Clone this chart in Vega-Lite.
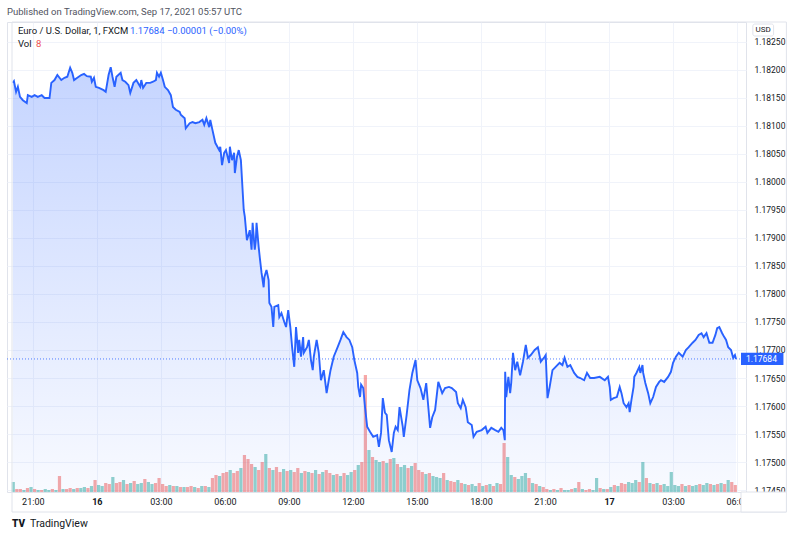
{
"$schema":"https://vega.github.io/schema/vega-lite/v6.json",
"width":739,"height":470,
"autosize":{"type":"none"},
"padding":{"left":7,"top":22,"right":54,"bottom":46},
"background":"white",
"title":{"text":"Published on TradingView.com, Sep 17, 2021 05:57 UTC","anchor":"start","frame":"group","fontSize":9.5,"fontWeight":"normal","color":"#50535e","offset":5,"font":"Roboto"},
"config":{"font":"Roboto","view":{"stroke":"#e0e3eb","strokeWidth":1},"axis":{"labelOverlap":false,"labelFlush":false}},
"datasets":{
"price":[
{"t":"2021-09-15T20:04Z","p":1.18177},{"t":"2021-09-15T20:07Z","p":1.18180},{"t":"2021-09-15T20:13Z","p":1.18161},{"t":"2021-09-15T20:18Z","p":1.18170},{"t":"2021-09-15T20:24Z","p":1.18152},{"t":"2021-09-15T20:32Z","p":1.18146},{"t":"2021-09-15T20:43Z","p":1.18141},{"t":"2021-09-15T20:46Z","p":1.18155},{"t":"2021-09-15T20:57Z","p":1.18152},{"t":"2021-09-15T21:05Z","p":1.18155},{"t":"2021-09-15T21:14Z","p":1.18152},{"t":"2021-09-15T21:25Z","p":1.18155},{"t":"2021-09-15T21:33Z","p":1.18150},{"t":"2021-09-15T21:47Z","p":1.18150},{"t":"2021-09-15T21:52Z","p":1.18177},{"t":"2021-09-15T22:01Z","p":1.18182},{"t":"2021-09-15T22:09Z","p":1.18191},{"t":"2021-09-15T22:20Z","p":1.18182},{"t":"2021-09-15T22:29Z","p":1.18186},{"t":"2021-09-15T22:37Z","p":1.18188},{"t":"2021-09-15T22:45Z","p":1.18204},{"t":"2021-09-15T22:51Z","p":1.18195},{"t":"2021-09-15T22:56Z","p":1.18182},{"t":"2021-09-15T23:05Z","p":1.18186},{"t":"2021-09-15T23:16Z","p":1.18191},{"t":"2021-09-15T23:24Z","p":1.18193},{"t":"2021-09-15T23:32Z","p":1.18189},{"t":"2021-09-15T23:43Z","p":1.18188},{"t":"2021-09-15T23:46Z","p":1.18179},{"t":"2021-09-15T23:52Z","p":1.18186},{"t":"2021-09-15T23:57Z","p":1.18170},
{"t":"2021-09-16T00:06Z","p":1.18168},{"t":"2021-09-16T00:19Z","p":1.18164},{"t":"2021-09-16T00:25Z","p":1.18161},{"t":"2021-09-16T00:33Z","p":1.18191},{"t":"2021-09-16T00:39Z","p":1.18205},{"t":"2021-09-16T00:44Z","p":1.18188},{"t":"2021-09-16T00:50Z","p":1.18170},{"t":"2021-09-16T00:55Z","p":1.18188},{"t":"2021-09-16T01:07Z","p":1.18195},{"t":"2021-09-16T01:12Z","p":1.18182},{"t":"2021-09-16T01:20Z","p":1.18179},{"t":"2021-09-16T01:29Z","p":1.18173},{"t":"2021-09-16T01:34Z","p":1.18159},{"t":"2021-09-16T01:43Z","p":1.18177},{"t":"2021-09-16T01:51Z","p":1.18182},{"t":"2021-09-16T02:02Z","p":1.18170},{"t":"2021-09-16T02:05Z","p":1.18182},{"t":"2021-09-16T02:10Z","p":1.18168},{"t":"2021-09-16T02:19Z","p":1.18177},{"t":"2021-09-16T02:30Z","p":1.18177},{"t":"2021-09-16T02:38Z","p":1.18179},{"t":"2021-09-16T02:46Z","p":1.18182},{"t":"2021-09-16T02:49Z","p":1.18195},{"t":"2021-09-16T02:55Z","p":1.18188},{"t":"2021-09-16T03:00Z","p":1.18195},{"t":"2021-09-16T03:06Z","p":1.18182},{"t":"2021-09-16T03:11Z","p":1.18170},{"t":"2021-09-16T03:20Z","p":1.18164},{"t":"2021-09-16T03:28Z","p":1.18155},{"t":"2021-09-16T03:34Z","p":1.18134},{"t":"2021-09-16T03:42Z","p":1.18129},{"t":"2021-09-16T03:53Z","p":1.18125},{"t":"2021-09-16T03:56Z","p":1.18120},{"t":"2021-09-16T04:07Z","p":1.18114},{"t":"2021-09-16T04:10Z","p":1.18096},{"t":"2021-09-16T04:21Z","p":1.18105},{"t":"2021-09-16T04:29Z","p":1.18107},{"t":"2021-09-16T04:37Z","p":1.18105},{"t":"2021-09-16T04:48Z","p":1.18107},{"t":"2021-09-16T04:57Z","p":1.18111},{"t":"2021-09-16T05:02Z","p":1.18102},{"t":"2021-09-16T05:08Z","p":1.18114},{"t":"2021-09-16T05:16Z","p":1.18098},{"t":"2021-09-16T05:19Z","p":1.18111},{"t":"2021-09-16T05:25Z","p":1.18093},{"t":"2021-09-16T05:33Z","p":1.18070},{"t":"2021-09-16T05:44Z","p":1.18057},{"t":"2021-09-16T05:47Z","p":1.18063},{"t":"2021-09-16T05:52Z","p":1.18030},{"t":"2021-09-16T05:58Z","p":1.18052},{"t":"2021-09-16T06:03Z","p":1.18057},{"t":"2021-09-16T06:12Z","p":1.18034},{"t":"2021-09-16T06:14Z","p":1.18063},{"t":"2021-09-16T06:20Z","p":1.18039},{"t":"2021-09-16T06:26Z","p":1.18052},{"t":"2021-09-16T06:28Z","p":1.18016},{"t":"2021-09-16T06:34Z","p":1.18045},{"t":"2021-09-16T06:39Z","p":1.18057},{"t":"2021-09-16T06:45Z","p":1.18039},{"t":"2021-09-16T06:53Z","p":1.17950},{"t":"2021-09-16T06:56Z","p":1.17938},{"t":"2021-09-16T07:02Z","p":1.17896},{"t":"2021-09-16T07:10Z","p":1.17914},{"t":"2021-09-16T07:15Z","p":1.17879},{"t":"2021-09-16T07:18Z","p":1.17927},{"t":"2021-09-16T07:24Z","p":1.17879},{"t":"2021-09-16T07:27Z","p":1.17896},{"t":"2021-09-16T07:29Z","p":1.17927},{"t":"2021-09-16T07:35Z","p":1.17884},{"t":"2021-09-16T07:38Z","p":1.17866},{"t":"2021-09-16T07:43Z","p":1.17838},{"t":"2021-09-16T07:49Z","p":1.17812},{"t":"2021-09-16T07:51Z","p":1.17830},{"t":"2021-09-16T07:57Z","p":1.17843},{"t":"2021-09-16T08:03Z","p":1.17825},{"t":"2021-09-16T08:05Z","p":1.17784},{"t":"2021-09-16T08:11Z","p":1.17777},{"t":"2021-09-16T08:16Z","p":1.17741},{"t":"2021-09-16T08:19Z","p":1.17777},{"t":"2021-09-16T08:30Z","p":1.17780},{"t":"2021-09-16T08:33Z","p":1.17759},{"t":"2021-09-16T08:39Z","p":1.17766},{"t":"2021-09-16T08:47Z","p":1.17750},{"t":"2021-09-16T08:52Z","p":1.17741},{"t":"2021-09-16T08:58Z","p":1.17771},{"t":"2021-09-16T09:04Z","p":1.17741},{"t":"2021-09-16T09:09Z","p":1.17705},{"t":"2021-09-16T09:15Z","p":1.17670},{"t":"2021-09-16T09:20Z","p":1.17741},{"t":"2021-09-16T09:26Z","p":1.17695},{"t":"2021-09-16T09:29Z","p":1.17718},{"t":"2021-09-16T09:34Z","p":1.17688},{"t":"2021-09-16T09:40Z","p":1.17723},{"t":"2021-09-16T09:42Z","p":1.17695},{"t":"2021-09-16T09:51Z","p":1.17705},{"t":"2021-09-16T09:56Z","p":1.17718},{"t":"2021-09-16T10:02Z","p":1.17682},{"t":"2021-09-16T10:07Z","p":1.17664},{"t":"2021-09-16T10:10Z","p":1.17688},{"t":"2021-09-16T10:18Z","p":1.17718},{"t":"2021-09-16T10:24Z","p":1.17695},{"t":"2021-09-16T10:30Z","p":1.17646},{"t":"2021-09-16T10:38Z","p":1.17664},{"t":"2021-09-16T10:46Z","p":1.17623},{"t":"2021-09-16T10:52Z","p":1.17646},{"t":"2021-09-16T10:57Z","p":1.17664},{"t":"2021-09-16T11:06Z","p":1.17688},{"t":"2021-09-16T11:17Z","p":1.17705},{"t":"2021-09-16T11:25Z","p":1.17718},{"t":"2021-09-16T11:33Z","p":1.17732},{"t":"2021-09-16T11:42Z","p":1.17723},{"t":"2021-09-16T11:50Z","p":1.17718},{"t":"2021-09-16T11:58Z","p":1.17705},{"t":"2021-09-16T12:04Z","p":1.17682},{"t":"2021-09-16T12:12Z","p":1.17659},{"t":"2021-09-16T12:15Z","p":1.17634},{"t":"2021-09-16T12:20Z","p":1.17616},{"t":"2021-09-16T12:23Z","p":1.17638},{"t":"2021-09-16T12:29Z","p":1.17632},{"t":"2021-09-16T12:34Z","p":1.17598},{"t":"2021-09-16T12:40Z","p":1.17563},{"t":"2021-09-16T12:48Z","p":1.17554},{"t":"2021-09-16T12:57Z","p":1.17545},{"t":"2021-09-16T13:08Z","p":1.17548},{"t":"2021-09-16T13:13Z","p":1.17527},{"t":"2021-09-16T13:19Z","p":1.17552},{"t":"2021-09-16T13:24Z","p":1.17614},{"t":"2021-09-16T13:30Z","p":1.17588},{"t":"2021-09-16T13:35Z","p":1.17584},{"t":"2021-09-16T13:41Z","p":1.17539},{"t":"2021-09-16T13:49Z","p":1.17518},{"t":"2021-09-16T13:55Z","p":1.17552},{"t":"2021-09-16T14:00Z","p":1.17563},{"t":"2021-09-16T14:06Z","p":1.17557},{"t":"2021-09-16T14:11Z","p":1.17598},{"t":"2021-09-16T14:20Z","p":1.17563},{"t":"2021-09-16T14:23Z","p":1.17545},{"t":"2021-09-16T14:31Z","p":1.17584},{"t":"2021-09-16T14:39Z","p":1.17629},{"t":"2021-09-16T14:47Z","p":1.17659},{"t":"2021-09-16T14:56Z","p":1.17682},{"t":"2021-09-16T15:01Z","p":1.17646},{"t":"2021-09-16T15:10Z","p":1.17632},{"t":"2021-09-16T15:18Z","p":1.17611},{"t":"2021-09-16T15:26Z","p":1.17641},{"t":"2021-09-16T15:37Z","p":1.17561},{"t":"2021-09-16T15:43Z","p":1.17580},{"t":"2021-09-16T15:51Z","p":1.17593},{"t":"2021-09-16T16:00Z","p":1.17643},{"t":"2021-09-16T16:11Z","p":1.17623},{"t":"2021-09-16T16:19Z","p":1.17632},{"t":"2021-09-16T16:30Z","p":1.17634},{"t":"2021-09-16T16:38Z","p":1.17632},{"t":"2021-09-16T16:50Z","p":1.17625},{"t":"2021-09-16T16:55Z","p":1.17605},{"t":"2021-09-16T17:03Z","p":1.17596},{"t":"2021-09-16T17:09Z","p":1.17611},{"t":"2021-09-16T17:17Z","p":1.17598},{"t":"2021-09-16T17:23Z","p":1.17571},{"t":"2021-09-16T17:34Z","p":1.17566},{"t":"2021-09-16T17:39Z","p":1.17545},{"t":"2021-09-16T17:48Z","p":1.17554},{"t":"2021-09-16T18:02Z","p":1.17557},{"t":"2021-09-16T18:13Z","p":1.17563},{"t":"2021-09-16T18:18Z","p":1.17552},{"t":"2021-09-16T18:29Z","p":1.17561},{"t":"2021-09-16T18:40Z","p":1.17557},{"t":"2021-09-16T18:49Z","p":1.17554},{"t":"2021-09-16T18:57Z","p":1.17561},{"t":"2021-09-16T19:03Z","p":1.17557},{"t":"2021-09-16T19:07Z","p":1.17539},{"t":"2021-09-16T19:08Z","p":1.17661},{"t":"2021-09-16T19:11Z","p":1.17616},{"t":"2021-09-16T19:17Z","p":1.17652},{"t":"2021-09-16T19:22Z","p":1.17623},{"t":"2021-09-16T19:25Z","p":1.17641},{"t":"2021-09-16T19:30Z","p":1.17695},{"t":"2021-09-16T19:36Z","p":1.17664},{"t":"2021-09-16T19:42Z","p":1.17679},{"t":"2021-09-16T19:50Z","p":1.17655},{"t":"2021-09-16T19:58Z","p":1.17679},{"t":"2021-09-16T20:06Z","p":1.17709},{"t":"2021-09-16T20:12Z","p":1.17686},{"t":"2021-09-16T20:20Z","p":1.17691},{"t":"2021-09-16T20:31Z","p":1.17700},{"t":"2021-09-16T20:40Z","p":1.17705},{"t":"2021-09-16T20:48Z","p":1.17679},{"t":"2021-09-16T20:59Z","p":1.17688},{"t":"2021-09-16T21:02Z","p":1.17691},{"t":"2021-09-16T21:07Z","p":1.17614},{"t":"2021-09-16T21:13Z","p":1.17634},{"t":"2021-09-16T21:21Z","p":1.17664},{"t":"2021-09-16T21:30Z","p":1.17670},{"t":"2021-09-16T21:41Z","p":1.17677},{"t":"2021-09-16T21:49Z","p":1.17673},{"t":"2021-09-16T21:55Z","p":1.17686},{"t":"2021-09-16T22:03Z","p":1.17670},{"t":"2021-09-16T22:11Z","p":1.17673},{"t":"2021-09-16T22:22Z","p":1.17659},{"t":"2021-09-16T22:31Z","p":1.17652},{"t":"2021-09-16T22:39Z","p":1.17650},{"t":"2021-09-16T22:50Z","p":1.17646},{"t":"2021-09-16T22:58Z","p":1.17659},{"t":"2021-09-16T23:07Z","p":1.17650},{"t":"2021-09-16T23:18Z","p":1.17650},{"t":"2021-09-16T23:34Z","p":1.17652},{"t":"2021-09-16T23:48Z","p":1.17646},{"t":"2021-09-16T23:57Z","p":1.17652},
{"t":"2021-09-17T00:02Z","p":1.17634},{"t":"2021-09-17T00:05Z","p":1.17611},{"t":"2021-09-17T00:13Z","p":1.17614},{"t":"2021-09-17T00:22Z","p":1.17616},{"t":"2021-09-17T00:30Z","p":1.17634},{"t":"2021-09-17T00:35Z","p":1.17623},{"t":"2021-09-17T00:41Z","p":1.17605},{"t":"2021-09-17T00:49Z","p":1.17598},{"t":"2021-09-17T00:55Z","p":1.17605},{"t":"2021-09-17T00:58Z","p":1.17589},{"t":"2021-09-17T01:03Z","p":1.17611},{"t":"2021-09-17T01:09Z","p":1.17634},{"t":"2021-09-17T01:11Z","p":1.17652},{"t":"2021-09-17T01:17Z","p":1.17659},{"t":"2021-09-17T01:25Z","p":1.17670},{"t":"2021-09-17T01:28Z","p":1.17659},{"t":"2021-09-17T01:34Z","p":1.17673},{"t":"2021-09-17T01:36Z","p":1.17659},{"t":"2021-09-17T01:42Z","p":1.17641},{"t":"2021-09-17T01:50Z","p":1.17623},{"t":"2021-09-17T01:56Z","p":1.17605},{"t":"2021-09-17T02:04Z","p":1.17616},{"t":"2021-09-17T02:12Z","p":1.17634},{"t":"2021-09-17T02:21Z","p":1.17643},{"t":"2021-09-17T02:26Z","p":1.17646},{"t":"2021-09-17T02:35Z","p":1.17643},{"t":"2021-09-17T02:46Z","p":1.17652},{"t":"2021-09-17T02:54Z","p":1.17661},{"t":"2021-09-17T03:00Z","p":1.17677},{"t":"2021-09-17T03:08Z","p":1.17688},{"t":"2021-09-17T03:16Z","p":1.17695},{"t":"2021-09-17T03:27Z","p":1.17688},{"t":"2021-09-17T03:36Z","p":1.17700},{"t":"2021-09-17T03:44Z","p":1.17705},{"t":"2021-09-17T03:55Z","p":1.17713},{"t":"2021-09-17T04:03Z","p":1.17718},{"t":"2021-09-17T04:12Z","p":1.17727},{"t":"2021-09-17T04:20Z","p":1.17730},{"t":"2021-09-17T04:26Z","p":1.17723},{"t":"2021-09-17T04:34Z","p":1.17730},{"t":"2021-09-17T04:42Z","p":1.17713},{"t":"2021-09-17T04:51Z","p":1.17713},{"t":"2021-09-17T04:59Z","p":1.17727},{"t":"2021-09-17T05:04Z","p":1.17739},{"t":"2021-09-17T05:10Z","p":1.17741},{"t":"2021-09-17T05:18Z","p":1.17730},{"t":"2021-09-17T05:24Z","p":1.17723},{"t":"2021-09-17T05:29Z","p":1.17718},{"t":"2021-09-17T05:35Z","p":1.17705},{"t":"2021-09-17T05:43Z","p":1.17700},{"t":"2021-09-17T05:49Z","p":1.17686},{"t":"2021-09-17T05:54Z","p":1.17691},{"t":"2021-09-17T05:57Z","p":1.17684}
],
"vol":[
{"t":"2021-09-15T20:05Z","v":30,"dir":"up"},{"t":"2021-09-15T20:15Z","v":9,"dir":"down"},{"t":"2021-09-15T20:25Z","v":9,"dir":"down"},{"t":"2021-09-15T20:35Z","v":6,"dir":"up"},{"t":"2021-09-15T20:45Z","v":12,"dir":"down"},{"t":"2021-09-15T20:55Z","v":15,"dir":"up"},
{"t":"2021-09-15T21:05Z","v":9,"dir":"down"},{"t":"2021-09-15T21:15Z","v":6,"dir":"up"},{"t":"2021-09-15T21:25Z","v":6,"dir":"down"},{"t":"2021-09-15T21:35Z","v":9,"dir":"up"},{"t":"2021-09-15T21:45Z","v":6,"dir":"up"},{"t":"2021-09-15T21:55Z","v":9,"dir":"down"},
{"t":"2021-09-15T22:05Z","v":6,"dir":"up"},{"t":"2021-09-15T22:15Z","v":48,"dir":"down"},{"t":"2021-09-15T22:25Z","v":9,"dir":"up"},{"t":"2021-09-15T22:35Z","v":9,"dir":"down"},{"t":"2021-09-15T22:45Z","v":12,"dir":"down"},{"t":"2021-09-15T22:55Z","v":9,"dir":"up"},
{"t":"2021-09-15T23:05Z","v":12,"dir":"down"},{"t":"2021-09-15T23:15Z","v":12,"dir":"up"},{"t":"2021-09-15T23:25Z","v":15,"dir":"up"},{"t":"2021-09-15T23:35Z","v":12,"dir":"down"},{"t":"2021-09-15T23:45Z","v":18,"dir":"up"},{"t":"2021-09-15T23:55Z","v":36,"dir":"down"},
{"t":"2021-09-16T00:05Z","v":21,"dir":"up"},{"t":"2021-09-16T00:15Z","v":18,"dir":"up"},{"t":"2021-09-16T00:25Z","v":27,"dir":"down"},{"t":"2021-09-16T00:35Z","v":24,"dir":"down"},{"t":"2021-09-16T00:45Z","v":45,"dir":"up"},{"t":"2021-09-16T00:55Z","v":27,"dir":"down"},
{"t":"2021-09-16T01:05Z","v":30,"dir":"down"},{"t":"2021-09-16T01:15Z","v":36,"dir":"up"},{"t":"2021-09-16T01:25Z","v":24,"dir":"down"},{"t":"2021-09-16T01:35Z","v":27,"dir":"up"},{"t":"2021-09-16T01:45Z","v":33,"dir":"down"},{"t":"2021-09-16T01:55Z","v":24,"dir":"up"},
{"t":"2021-09-16T02:05Z","v":27,"dir":"up"},{"t":"2021-09-16T02:15Z","v":39,"dir":"down"},{"t":"2021-09-16T02:25Z","v":30,"dir":"up"},{"t":"2021-09-16T02:35Z","v":24,"dir":"up"},{"t":"2021-09-16T02:45Z","v":27,"dir":"down"},{"t":"2021-09-16T02:55Z","v":42,"dir":"down"},
{"t":"2021-09-16T03:05Z","v":24,"dir":"down"},{"t":"2021-09-16T03:15Z","v":18,"dir":"down"},{"t":"2021-09-16T03:25Z","v":21,"dir":"up"},{"t":"2021-09-16T03:35Z","v":18,"dir":"down"},{"t":"2021-09-16T03:45Z","v":18,"dir":"up"},{"t":"2021-09-16T03:55Z","v":15,"dir":"down"},
{"t":"2021-09-16T04:05Z","v":15,"dir":"up"},{"t":"2021-09-16T04:15Z","v":15,"dir":"down"},{"t":"2021-09-16T04:25Z","v":18,"dir":"down"},{"t":"2021-09-16T04:35Z","v":15,"dir":"up"},{"t":"2021-09-16T04:45Z","v":12,"dir":"down"},{"t":"2021-09-16T04:55Z","v":18,"dir":"up"},
{"t":"2021-09-16T05:05Z","v":18,"dir":"down"},{"t":"2021-09-16T05:15Z","v":15,"dir":"up"},{"t":"2021-09-16T05:25Z","v":42,"dir":"down"},{"t":"2021-09-16T05:35Z","v":51,"dir":"down"},{"t":"2021-09-16T05:45Z","v":48,"dir":"up"},{"t":"2021-09-16T05:55Z","v":57,"dir":"down"},
{"t":"2021-09-16T06:05Z","v":60,"dir":"down"},{"t":"2021-09-16T06:15Z","v":66,"dir":"up"},{"t":"2021-09-16T06:25Z","v":57,"dir":"down"},{"t":"2021-09-16T06:35Z","v":63,"dir":"down"},{"t":"2021-09-16T06:45Z","v":72,"dir":"up"},{"t":"2021-09-16T06:55Z","v":111,"dir":"down"},
{"t":"2021-09-16T07:05Z","v":99,"dir":"down"},{"t":"2021-09-16T07:15Z","v":84,"dir":"down"},{"t":"2021-09-16T07:25Z","v":75,"dir":"up"},{"t":"2021-09-16T07:35Z","v":66,"dir":"down"},{"t":"2021-09-16T07:45Z","v":90,"dir":"down"},{"t":"2021-09-16T07:55Z","v":114,"dir":"up"},
{"t":"2021-09-16T08:05Z","v":72,"dir":"down"},{"t":"2021-09-16T08:15Z","v":66,"dir":"up"},{"t":"2021-09-16T08:25Z","v":75,"dir":"down"},{"t":"2021-09-16T08:35Z","v":60,"dir":"down"},{"t":"2021-09-16T08:45Z","v":69,"dir":"up"},{"t":"2021-09-16T08:55Z","v":63,"dir":"down"},
{"t":"2021-09-16T09:05Z","v":66,"dir":"up"},{"t":"2021-09-16T09:15Z","v":60,"dir":"down"},{"t":"2021-09-16T09:25Z","v":72,"dir":"down"},{"t":"2021-09-16T09:35Z","v":57,"dir":"up"},{"t":"2021-09-16T09:45Z","v":63,"dir":"down"},{"t":"2021-09-16T09:55Z","v":60,"dir":"up"},
{"t":"2021-09-16T10:05Z","v":57,"dir":"down"},{"t":"2021-09-16T10:15Z","v":66,"dir":"up"},{"t":"2021-09-16T10:25Z","v":54,"dir":"down"},{"t":"2021-09-16T10:35Z","v":60,"dir":"up"},{"t":"2021-09-16T10:45Z","v":66,"dir":"down"},{"t":"2021-09-16T10:55Z","v":57,"dir":"down"},
{"t":"2021-09-16T11:05Z","v":51,"dir":"up"},{"t":"2021-09-16T11:15Z","v":54,"dir":"down"},{"t":"2021-09-16T11:25Z","v":48,"dir":"up"},{"t":"2021-09-16T11:35Z","v":57,"dir":"down"},{"t":"2021-09-16T11:45Z","v":51,"dir":"up"},{"t":"2021-09-16T11:55Z","v":60,"dir":"up"},
{"t":"2021-09-16T12:05Z","v":66,"dir":"down"},{"t":"2021-09-16T12:15Z","v":81,"dir":"up"},{"t":"2021-09-16T12:25Z","v":90,"dir":"down"},{"t":"2021-09-16T12:35Z","v":351,"dir":"down"},{"t":"2021-09-16T12:45Z","v":126,"dir":"up"},{"t":"2021-09-16T12:55Z","v":105,"dir":"down"},
{"t":"2021-09-16T13:05Z","v":96,"dir":"up"},{"t":"2021-09-16T13:15Z","v":90,"dir":"up"},{"t":"2021-09-16T13:25Z","v":93,"dir":"down"},{"t":"2021-09-16T13:35Z","v":87,"dir":"up"},{"t":"2021-09-16T13:45Z","v":99,"dir":"down"},{"t":"2021-09-16T13:55Z","v":102,"dir":"up"},
{"t":"2021-09-16T14:05Z","v":84,"dir":"down"},{"t":"2021-09-16T14:15Z","v":75,"dir":"up"},{"t":"2021-09-16T14:25Z","v":81,"dir":"up"},{"t":"2021-09-16T14:35Z","v":72,"dir":"down"},{"t":"2021-09-16T14:45Z","v":78,"dir":"up"},{"t":"2021-09-16T14:55Z","v":87,"dir":"down"},
{"t":"2021-09-16T15:05Z","v":66,"dir":"down"},{"t":"2021-09-16T15:15Z","v":60,"dir":"down"},{"t":"2021-09-16T15:25Z","v":54,"dir":"up"},{"t":"2021-09-16T15:35Z","v":57,"dir":"down"},{"t":"2021-09-16T15:45Z","v":48,"dir":"up"},{"t":"2021-09-16T15:55Z","v":45,"dir":"up"},
{"t":"2021-09-16T16:05Z","v":42,"dir":"up"},{"t":"2021-09-16T16:15Z","v":57,"dir":"down"},{"t":"2021-09-16T16:25Z","v":36,"dir":"up"},{"t":"2021-09-16T16:35Z","v":33,"dir":"down"},{"t":"2021-09-16T16:45Z","v":30,"dir":"down"},{"t":"2021-09-16T16:55Z","v":36,"dir":"up"},
{"t":"2021-09-16T17:05Z","v":27,"dir":"down"},{"t":"2021-09-16T17:15Z","v":24,"dir":"up"},{"t":"2021-09-16T17:25Z","v":21,"dir":"down"},{"t":"2021-09-16T17:35Z","v":24,"dir":"up"},{"t":"2021-09-16T17:45Z","v":18,"dir":"up"},{"t":"2021-09-16T17:55Z","v":27,"dir":"down"},
{"t":"2021-09-16T18:05Z","v":18,"dir":"up"},{"t":"2021-09-16T18:15Z","v":21,"dir":"down"},{"t":"2021-09-16T18:25Z","v":24,"dir":"up"},{"t":"2021-09-16T18:35Z","v":18,"dir":"down"},{"t":"2021-09-16T18:45Z","v":27,"dir":"up"},{"t":"2021-09-16T18:55Z","v":24,"dir":"down"},
{"t":"2021-09-16T19:05Z","v":147,"dir":"down"},{"t":"2021-09-16T19:15Z","v":105,"dir":"up"},{"t":"2021-09-16T19:25Z","v":51,"dir":"up"},{"t":"2021-09-16T19:35Z","v":45,"dir":"down"},{"t":"2021-09-16T19:45Z","v":39,"dir":"up"},{"t":"2021-09-16T19:55Z","v":48,"dir":"up"},
{"t":"2021-09-16T20:05Z","v":57,"dir":"up"},{"t":"2021-09-16T20:15Z","v":42,"dir":"down"},{"t":"2021-09-16T20:25Z","v":27,"dir":"up"},{"t":"2021-09-16T20:35Z","v":24,"dir":"down"},{"t":"2021-09-16T20:45Z","v":18,"dir":"up"},{"t":"2021-09-16T20:55Z","v":15,"dir":"down"},
{"t":"2021-09-16T21:05Z","v":9,"dir":"down"},{"t":"2021-09-16T21:15Z","v":6,"dir":"up"},{"t":"2021-09-16T21:25Z","v":9,"dir":"down"},{"t":"2021-09-16T21:35Z","v":6,"dir":"up"},{"t":"2021-09-16T21:45Z","v":12,"dir":"down"},{"t":"2021-09-16T21:55Z","v":6,"dir":"up"},
{"t":"2021-09-16T22:05Z","v":6,"dir":"up"},{"t":"2021-09-16T22:15Z","v":9,"dir":"down"},{"t":"2021-09-16T22:25Z","v":12,"dir":"up"},{"t":"2021-09-16T22:35Z","v":30,"dir":"down"},{"t":"2021-09-16T22:45Z","v":9,"dir":"up"},{"t":"2021-09-16T22:55Z","v":6,"dir":"down"},
{"t":"2021-09-16T23:05Z","v":9,"dir":"down"},{"t":"2021-09-16T23:15Z","v":6,"dir":"up"},{"t":"2021-09-16T23:25Z","v":42,"dir":"up"},{"t":"2021-09-16T23:35Z","v":12,"dir":"down"},{"t":"2021-09-16T23:45Z","v":9,"dir":"up"},{"t":"2021-09-16T23:55Z","v":9,"dir":"down"},
{"t":"2021-09-17T00:05Z","v":15,"dir":"up"},{"t":"2021-09-17T00:15Z","v":21,"dir":"down"},{"t":"2021-09-17T00:25Z","v":18,"dir":"up"},{"t":"2021-09-17T00:35Z","v":27,"dir":"down"},{"t":"2021-09-17T00:45Z","v":24,"dir":"down"},{"t":"2021-09-17T00:55Z","v":30,"dir":"up"},
{"t":"2021-09-17T01:05Z","v":27,"dir":"up"},{"t":"2021-09-17T01:15Z","v":36,"dir":"up"},{"t":"2021-09-17T01:25Z","v":30,"dir":"down"},{"t":"2021-09-17T01:35Z","v":90,"dir":"up"},{"t":"2021-09-17T01:45Z","v":42,"dir":"down"},{"t":"2021-09-17T01:55Z","v":27,"dir":"up"},
{"t":"2021-09-17T02:05Z","v":24,"dir":"down"},{"t":"2021-09-17T02:15Z","v":27,"dir":"up"},{"t":"2021-09-17T02:25Z","v":21,"dir":"down"},{"t":"2021-09-17T02:35Z","v":24,"dir":"up"},{"t":"2021-09-17T02:45Z","v":18,"dir":"up"},{"t":"2021-09-17T02:55Z","v":60,"dir":"up"},
{"t":"2021-09-17T03:05Z","v":21,"dir":"up"},{"t":"2021-09-17T03:15Z","v":18,"dir":"up"},{"t":"2021-09-17T03:25Z","v":24,"dir":"down"},{"t":"2021-09-17T03:35Z","v":18,"dir":"up"},{"t":"2021-09-17T03:45Z","v":21,"dir":"down"},{"t":"2021-09-17T03:55Z","v":18,"dir":"up"},
{"t":"2021-09-17T04:05Z","v":21,"dir":"up"},{"t":"2021-09-17T04:15Z","v":24,"dir":"down"},{"t":"2021-09-17T04:25Z","v":21,"dir":"up"},{"t":"2021-09-17T04:35Z","v":27,"dir":"up"},{"t":"2021-09-17T04:45Z","v":24,"dir":"down"},{"t":"2021-09-17T04:55Z","v":21,"dir":"up"},
{"t":"2021-09-17T05:05Z","v":24,"dir":"down"},{"t":"2021-09-17T05:15Z","v":27,"dir":"up"},{"t":"2021-09-17T05:25Z","v":24,"dir":"down"},{"t":"2021-09-17T05:35Z","v":36,"dir":"up"},{"t":"2021-09-17T05:45Z","v":30,"dir":"down"},{"t":"2021-09-17T05:55Z","v":21,"dir":"down"}
]
},
"resolve":{"scale":{"y":"independent"}},
"layer":[
{"data":{"name":"vol"},
 "mark":{"type":"bar","width":3.2,"opacity":0.5},
 "encoding":{
  "x":{"field":"t","type":"temporal","title":null,
   "scale":{"type":"utc","nice":false,"domain":[{"year":2021,"month":9,"date":15,"hours":20,"minutes":1,"seconds":30,"utc":true},{"year":2021,"month":9,"date":17,"hours":6,"minutes":11,"utc":true}]},
   "axis":{"values":[
     {"year":2021,"month":9,"date":15,"hours":21,"utc":true},
     {"year":2021,"month":9,"date":16,"hours":0,"utc":true},
     {"year":2021,"month":9,"date":16,"hours":3,"utc":true},
     {"year":2021,"month":9,"date":16,"hours":6,"utc":true},
     {"year":2021,"month":9,"date":16,"hours":9,"utc":true},
     {"year":2021,"month":9,"date":16,"hours":12,"utc":true},
     {"year":2021,"month":9,"date":16,"hours":15,"utc":true},
     {"year":2021,"month":9,"date":16,"hours":18,"utc":true},
     {"year":2021,"month":9,"date":16,"hours":21,"utc":true},
     {"year":2021,"month":9,"date":17,"hours":0,"utc":true},
     {"year":2021,"month":9,"date":17,"hours":3,"utc":true},
     {"year":2021,"month":9,"date":17,"hours":6,"utc":true}],
    "tickCount":40,
    "labelExpr":"utchours(datum.value)==0 ? utcFormat(datum.value,'%-d') : utcFormat(datum.value,'%H:%M')",
    "labelFontWeight":{"condition":{"test":"utchours(datum.value)==0","value":"bold"},"value":"normal"},
    "grid":true,"gridColor":"#f0f3fa","domain":false,"ticks":false,"tickSize":0,"labelPadding":5,
    "labelFontSize":9,"labelColor":"#131722","labelFlush":false,"labelOverlap":false,"title":null}},
  "y":{"field":"v","type":"quantitative","title":null,"scale":{"domain":[0,1410],"nice":false},"axis":null},
  "color":{"field":"dir","type":"nominal","scale":{"domain":["up","down"],"range":["#26a69a","#ef5350"]},"legend":null}
 }},
{"layer":[
 {"data":{"name":"price"},
  "mark":{"type":"area","line":false,"color":{"gradient":"linear","x1":0,"y1":0,"x2":0,"y2":1,"stops":[{"offset":0,"color":"rgba(41,98,255,0.27)"},{"offset":1,"color":"rgba(41,98,255,0.03)"}]}},
  "encoding":{
   "x":{"field":"t","type":"temporal","title":null,"scale":{"type":"utc","nice":false,"domain":[{"year":2021,"month":9,"date":15,"hours":20,"minutes":1,"seconds":30,"utc":true},{"year":2021,"month":9,"date":17,"hours":6,"minutes":11,"utc":true}]}},
   "y":{"field":"p","type":"quantitative","title":null,"scale":{"domain":[1.1744643,1.1828571],"nice":false,"zero":false},
    "axis":{"orient":"right","values":[1.1745,1.175,1.1755,1.176,1.1765,1.177,1.1775,1.178,1.1785,1.179,1.1795,1.18,1.1805,1.181,1.1815,1.182,1.1825],
     "tickCount":40,
     "format":".5f","labelAlign":"left","labelBaseline":"middle","labelPadding":8,"ticks":false,"tickSize":0,"domain":false,"grid":true,"gridColor":"#f0f3fa",
     "labelOverlap":false,"labelFlush":false,"labelFontSize":8.5,"labelColor":"#131722","title":null}},
   "y2":{"datum":1.1744643}
  }},
 {"data":{"name":"price"},
  "mark":{"type":"line","color":"#2962ff","strokeWidth":1.9},
  "encoding":{
   "x":{"field":"t","type":"temporal","title":null},
   "y":{"field":"p","type":"quantitative","title":null}
  }},
 {"data":{"values":[{}]},
  "mark":{"type":"rule","color":"#2962ff","strokeDash":[1,2],"strokeWidth":1,"opacity":0.8},
  "encoding":{"y":{"datum":1.17684}}},
 {"data":{"values":[{}]},
  "mark":{"type":"rect","fillOpacity":0,"stroke":"#e0e3eb","strokeWidth":1},
  "encoding":{
   "x":{"datum":{"year":2021,"month":9,"date":15,"hours":20,"minutes":1,"seconds":30,"utc":true},"type":"temporal"},
   "x2":{"datum":{"year":2021,"month":9,"date":17,"hours":8,"minutes":18,"seconds":36,"utc":true}},
   "y":{"datum":1.174107},"y2":{"datum":1.1828571}}},
 {"data":{"values":[{}]},
  "mark":{"type":"rect","fill":"white","stroke":"#e0e3eb","strokeWidth":1},
  "encoding":{
   "x":{"datum":{"year":2021,"month":9,"date":17,"hours":6,"minutes":11,"utc":true},"type":"temporal"},
   "x2":{"datum":{"year":2021,"month":9,"date":17,"hours":8,"minutes":18,"seconds":36,"utc":true}},
   "y":{"datum":1.174107},"y2":{"datum":1.1744643}}},
 {"data":{"values":[{}]},
  "mark":{"type":"rect","fill":"#2962ff"},
  "encoding":{
   "x":{"datum":{"year":2021,"month":9,"date":17,"hours":6,"minutes":11,"utc":true},"type":"temporal"},
   "x2":{"datum":{"year":2021,"month":9,"date":17,"hours":8,"minutes":10,"seconds":18,"utc":true}},
   "y":{"datum":1.17673},"y2":{"datum":1.17695}}},
 {"data":{"values":[{}]},
  "mark":{"type":"text","text":"1.17684","color":"white","align":"left","baseline":"middle","dx":5,"fontSize":8.5},
  "encoding":{
   "x":{"datum":{"year":2021,"month":9,"date":17,"hours":6,"minutes":11,"utc":true},"type":"temporal"},
   "y":{"datum":1.17684}}},
 {"data":{"values":[{}]},
  "mark":{"type":"rect","fill":"white","stroke":"#e0e3eb","strokeWidth":1,"cornerRadius":2},
  "encoding":{
   "x":{"datum":{"year":2021,"month":9,"date":17,"hours":6,"minutes":44,"seconds":18,"utc":true},"type":"temporal"},
   "x2":{"datum":{"year":2021,"month":9,"date":17,"hours":7,"minutes":42,"seconds":36,"utc":true}},
   "y":{"datum":1.182607},"y2":{"datum":1.182821}}},
 {"data":{"values":[{}]},
  "mark":{"type":"text","text":"USD","color":"#131722","align":"center","baseline":"middle","fontSize":8},
  "encoding":{
   "x":{"datum":{"year":2021,"month":9,"date":17,"hours":7,"minutes":13,"seconds":24,"utc":true},"type":"temporal"},
   "y":{"datum":1.182714}}},
 {"data":{"values":[{}]},
  "mark":{"type":"text","text":"Euro / U.S. Dollar, 1, FXCM","color":"#131722","align":"left","baseline":"middle","dx":6,"dy":9,"fontSize":9.5},
  "encoding":{
   "x":{"datum":{"year":2021,"month":9,"date":15,"hours":20,"minutes":1,"seconds":30,"utc":true},"type":"temporal"},
   "y":{"datum":1.1828571}}},
 {"data":{"values":[{}]},
  "mark":{"type":"text","text":"1.17684  −0.00001 (−0.00%)","color":"#2962ff","align":"left","baseline":"middle","dx":118,"dy":9,"fontSize":9.5},
  "encoding":{
   "x":{"datum":{"year":2021,"month":9,"date":15,"hours":20,"minutes":1,"seconds":30,"utc":true},"type":"temporal"},
   "y":{"datum":1.1828571}}},
 {"data":{"values":[{}]},
  "mark":{"type":"text","text":"Vol","color":"#131722","align":"left","baseline":"middle","dx":6,"dy":22,"fontSize":9.5},
  "encoding":{
   "x":{"datum":{"year":2021,"month":9,"date":15,"hours":20,"minutes":1,"seconds":30,"utc":true},"type":"temporal"},
   "y":{"datum":1.1828571}}},
 {"data":{"values":[{}]},
  "mark":{"type":"text","text":"8","color":"#ef5350","align":"left","baseline":"middle","dx":24,"dy":22,"fontSize":9.5},
  "encoding":{
   "x":{"datum":{"year":2021,"month":9,"date":15,"hours":20,"minutes":1,"seconds":30,"utc":true},"type":"temporal"},
   "y":{"datum":1.1828571}}},
 {"data":{"values":[{}]},
  "mark":{"type":"text","text":"TV","color":"#131722","align":"left","baseline":"middle","dx":0,"dy":12,"fontSize":10,"fontWeight":900},
  "encoding":{
   "x":{"datum":{"year":2021,"month":9,"date":15,"hours":20,"minutes":1,"seconds":30,"utc":true},"type":"temporal"},
   "y":{"datum":1.174107}}},
 {"data":{"values":[{}]},
  "mark":{"type":"text","text":"TradingView","color":"#131722","align":"left","baseline":"middle","dx":18,"dy":12,"fontSize":10.5},
  "encoding":{
   "x":{"datum":{"year":2021,"month":9,"date":15,"hours":20,"minutes":1,"seconds":30,"utc":true},"type":"temporal"},
   "y":{"datum":1.174107}}}
]}
]
}
